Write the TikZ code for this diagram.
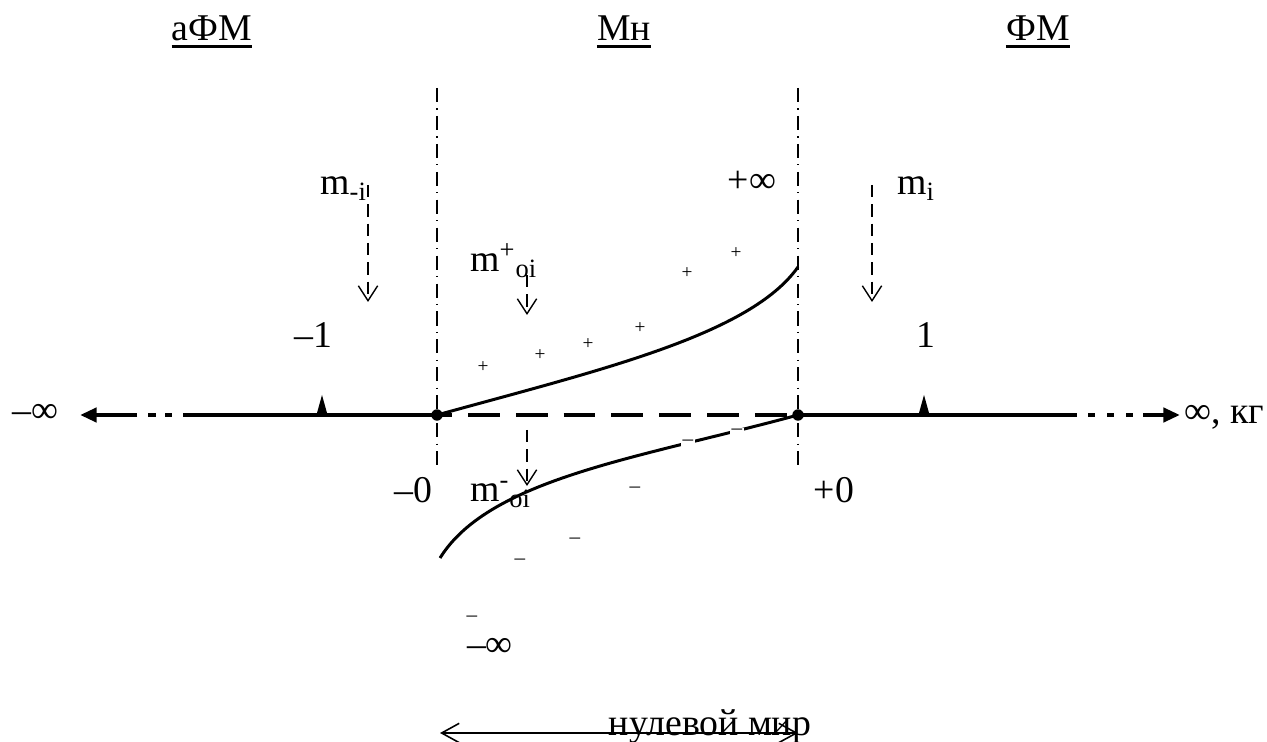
\documentclass[tikz,border=0pt]{standalone}
\usepackage{fontspec}
\setmainfont{Liberation Serif}
\usetikzlibrary{arrows.meta}
\begin{document}
\begin{tikzpicture}[x=0.02cm,y=-0.02cm,
  big/.style={font=\fontsize{21.5}{24}\selectfont, inner sep=0pt},
  small/.style={font=\fontsize{11}{13}\selectfont, inner sep=0pt},
  axis/.style={line width=2.8pt},
  midaxis/.style={line width=2.8pt, dash pattern=on 18.1pt off 9.1pt, dash phase=9.5pt},
  vline/.style={line width=0.8pt, dash pattern=on 8pt off 3.6pt on 0.7pt off 3.6pt},
  curve/.style={line width=1.7pt},
  uline/.style={line width=1.6pt},
  dot/.style={circle, fill=black, inner sep=0pt, minimum size=6.5pt},
  tick/.style={fill=black},
  bigtip/.style={-{Triangle[length=9.5pt,width=8pt]}},
  darrow/.style={line width=0.8pt, dash pattern=on 7pt off 4pt,
     -{Straight Barb[length=8.5pt,width=11pt,line width=0.8pt]}},
  zarrow/.style={line width=0.9pt,
     {Straight Barb[length=10pt,width=11pt,line width=0.9pt]}-{Straight Barb[length=10pt,width=11pt,line width=0.9pt]}},
  wminus/.style={small, font=\fontsize{12}{14}\selectfont, fill=white, inner xsep=1pt, inner ysep=0.5pt}
]
\useasboundingbox (0,0) rectangle (1267,742);

% headers
\node[big, anchor=base] (hA) at (212,41) {аФМ};
\node[big, anchor=base] (hN) at (624,41) {Мн};
\node[big, anchor=base] (hF) at (1038,41) {ФМ};
\draw[uline] ([yshift=-3pt]hA.base west) -- ([yshift=-3pt]hA.base east);
\draw[uline] ([yshift=-3pt]hN.base west) -- ([yshift=-3pt]hN.base east);
\draw[uline] ([yshift=-3pt]hF.base west) -- ([yshift=-3pt]hF.base east);

% vertical dash-dot lines
\coordinate (vLt) at (437,88); \coordinate (vLb) at (437,470);
\coordinate (vRt) at (798,88); \coordinate (vRb) at (798,470);
\draw[vline] (vLt) -- (vLb);
\draw[vline] (vRt) -- (vRb);

% axis
\node[dot] (dL) at (437,415) {};
\node[dot] (dR) at (798,415) {};
\coordinate (la1) at (183,415); \coordinate (la2) at (172,415); \coordinate (la3) at (165,415);
\coordinate (la4) at (156,415); \coordinate (la5) at (148,415); \coordinate (la6) at (137,415);
\coordinate (ltip) at (80,415);
\coordinate (ra1) at (1077,415); \coordinate (ra2) at (1088,415); \coordinate (ra3) at (1095,415);
\coordinate (ra4) at (1107,415); \coordinate (ra5) at (1114,415); \coordinate (ra6) at (1126,415);
\coordinate (ra7) at (1133,415); \coordinate (ra8) at (1143,415); \coordinate (rtip) at (1180,415);
\draw[axis] (dL.center) -- (la1);
\draw[axis] (la3) -- (la2);
\draw[axis] (la5) -- (la4);
\draw[axis, bigtip] (la6) -- (ltip);
\draw[midaxis] (dL.center) -- (dR.center);
\draw[axis] (dR.center) -- (ra1);
\draw[axis] (ra2) -- (ra3);
\draw[axis] (ra4) -- (ra5);
\draw[axis] (ra6) -- (ra7);
\draw[axis, bigtip] (ra8) -- (rtip);

% ticks
\fill[tick] (317,413) -- (322,395) -- (327,413) -- cycle;
\fill[tick] (919,413) -- (924,395) -- (929,413) -- cycle;

% axis labels
\node[big, anchor=base west] (minf) at (12,423) {–∞};
\node[big, anchor=base west] (pinf) at (1184,424) {∞, кг};
\node[big, anchor=base] (m1) at (313,348) {–1};
\node[big, anchor=base] (p1) at (926,348) {1};
\node[big, anchor=base] (m0) at (413,503) {–0};
\node[big, anchor=base] (p0) at (834,503) {+0};
\node[big, anchor=base] (pinfu) at (752,193) {+∞};
\node[big, anchor=base] (minfd) at (490,656) {–∞};
\node[small, font=\fontsize{12}{14}\selectfont] (mdash0) at (472,619) {–};

% mass labels
\node[big, anchor=base west] (mmi) at (320,195) {m\textsubscript{-i}};
\node[big, anchor=base west] (mi) at (897,195) {m\textsubscript{i}};
\node[big, anchor=base west] (mpo) at (470,272) {m\textsuperscript{+}\textsubscript{oi}};
\node[big, anchor=base west] (mmo) at (470,502) {m\textsuperscript{-}\textsubscript{oi}};

% dashed arrows
\coordinate (a1s) at (368,185); \coordinate (a1e) at (368,302);
\coordinate (a2s) at (872,185); \coordinate (a2e) at (872,302);
\coordinate (a3s) at (527,275); \coordinate (a3e) at (527,315);
\coordinate (a4s) at (527,430); \coordinate (a4e) at (527,486);
\draw[darrow] (a1s) -- (a1e);
\draw[darrow] (a2s) -- (a2e);
\draw[darrow] (a3s) -- (a3e);
\draw[darrow] (a4s) -- (a4e);

% plus signs
\node[small] (pl1) at (483,367) {+};
\node[small] (pl2) at (540,355) {+};
\node[small] (pl3) at (588,344) {+};
\node[small] (pl4) at (640,328) {+};
\node[small] (pl5) at (687,273) {+};
\node[small] (pl6) at (736,253) {+};

% curves
\draw[curve] (dL.center) .. controls (600,370) and (750,335) .. (798,267);
\draw[curve] (dR.center) .. controls (640,458) and (490,478) .. (440,558);

% minus signs
\node[wminus] (mn1) at (688,443) {–};
\node[wminus] (mn2) at (737,432) {–};
\node[small, font=\fontsize{12}{14}\selectfont] (mn3) at (635,490) {–};
\node[small, font=\fontsize{12}{14}\selectfont] (mn4) at (575,541) {–};
\node[small, font=\fontsize{12}{14}\selectfont] (mn5) at (520,562) {–};

% zero world
\coordinate (zl) at (440,733); \coordinate (zr) at (798,733);
\node[big, anchor=base] (zw) at (710,735) {нулевой мир};
\draw[zarrow] (zl) -- (zr);
\end{tikzpicture}
\end{document}
